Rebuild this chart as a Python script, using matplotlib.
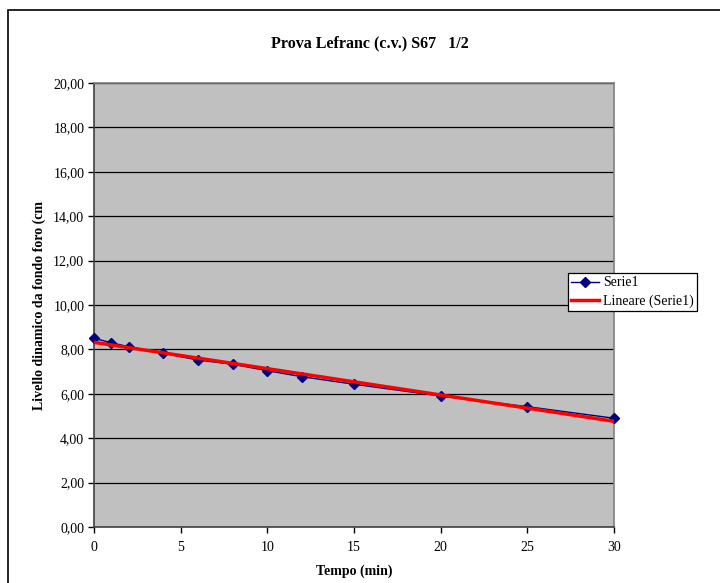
import matplotlib
matplotlib.use("Agg")
import matplotlib.pyplot as plt
from matplotlib.patches import Rectangle
from matplotlib.ticker import FuncFormatter
import numpy as np

# Lefranc test readings
tempo_min = [0, 1, 2, 4, 6, 8, 10, 12, 15, 20, 25, 30]
livello_cm = [8.50, 8.30, 8.12, 7.82, 7.52, 7.33, 7.04, 6.77, 6.43, 5.90, 5.42, 4.90]

titolo = "Prova Lefranc (c.v.) S67   1/2"
etichetta_x = "Tempo (min)"
etichetta_y = "Livello dinamico da fondo foro (cm"
nome_serie = "Serie1"
nome_tendenza = "Lineare (Serie1)"

plt.rcParams["font.family"] = ["Liberation Serif", "DejaVu Serif"]

W, H = 720, 583
fig = plt.figure(figsize=(W / 100, H / 100), dpi=100)
fig.patch.set_facecolor("white")

# chart border (only top/left edges fall inside the canvas)
fig.patches.append(Rectangle((8 / W, -0.05), 1.2, (H - 10) / H + 0.05,
                             transform=fig.transFigure, fill=False,
                             edgecolor="black", linewidth=1.2, zorder=0))

ax = fig.add_axes([94 / W, 56 / H, (614 - 94) / W, (527 - 83) / H])
ax.set_facecolor("#C0C0C0")

ax.set_xlim(0, 30)
ax.set_ylim(0, 20)
ax.set_xticks([0, 5, 10, 15, 20, 25, 30])
ax.set_yticks(np.arange(0, 21, 2))
ax.yaxis.set_major_formatter(FuncFormatter(lambda v, p: f"{v:.2f}".replace(".", ",")))

ax.grid(axis="y", color="black", linewidth=0.9)
ax.set_axisbelow(True)

for side in ["top", "right"]:
    ax.spines[side].set_color("#808080")
    ax.spines[side].set_linewidth(1.2)
for side in ["left", "bottom"]:
    ax.spines[side].set_color("#404040")
    ax.spines[side].set_linewidth(1.2)

ax.tick_params(axis="both", direction="out", length=4, width=1, colors="black",
               labelsize=10)
ax.tick_params(axis="y", pad=3)
ax.tick_params(axis="x", pad=6)

x = np.array(tempo_min, dtype=float)
y = np.array(livello_cm, dtype=float)
ax.plot(x, y, color="#000080", linewidth=1.0, marker="D", markersize=5.5,
        markerfacecolor="#000080", markeredgecolor="#000080",
        label=nome_serie, zorder=3, clip_on=False)

k, q = np.polyfit(x, y, 1)
xt = np.array([0.0, 30.0])
ax.plot(xt, k * xt + q, color="#FF0000", linewidth=2.5, label=nome_tendenza,
        zorder=4)

ax.set_xlabel(etichetta_x, fontsize=10, fontweight="bold")
ax.set_ylabel(etichetta_y, fontsize=10, fontweight="bold")
ax.yaxis.set_label_coords(-(94 - 46) / (614 - 94), 0.5)
ax.xaxis.set_label_coords(0.5, -(565 - 527) / (527 - 83))

fig.text(370 / W, (H - 43) / H, titolo, ha="center", va="center",
         fontsize=11.5, fontweight="bold")

leg = ax.legend(loc="upper left", bbox_to_anchor=(568 / W, (H - 273) / H),
                bbox_transform=fig.transFigure, frameon=True, fancybox=False,
                edgecolor="black", framealpha=1, fontsize=10,
                handlelength=2.0, handletextpad=0.25, borderpad=0.25,
                labelspacing=0.35, borderaxespad=0)
leg.get_frame().set_linewidth(0.9)

fig.savefig("out.png", dpi=100)
